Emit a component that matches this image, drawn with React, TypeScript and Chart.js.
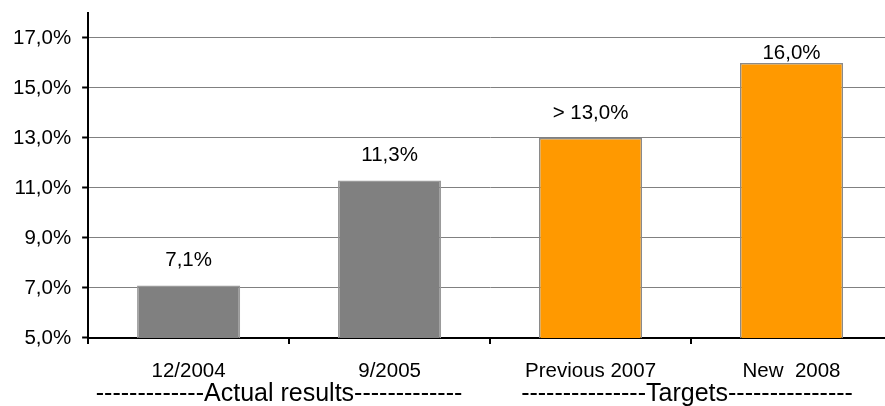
import React, { useEffect, useRef } from "react";
import { Chart, registerables } from "chart.js";

Chart.register(...registerables);

const categories = ["12/2004", "9/2005", "Previous 2007", "New  2008"];
const values = [7.1, 11.3, 13.0, 16.0];
const labelPrefixes = ["", "", "> ", ""];
const barColors = ["#808080", "#808080", "#FF9900", "#FF9900"];
const barBorders = ["#9a9a9a", "#9a9a9a", "#8a8a8a", "#8a8a8a"];
const yTicks = [5, 7, 9, 11, 13, 15, 17];
const groupLabels = ["-------------Actual results-------------", "---------------Targets---------------"];

const FONT = "'Liberation Sans', Arial, sans-serif";
const fmt = (v: number) => v.toFixed(1).replace(".", ",") + "%";

const labelPlugin = {
  id: "barLabels",
  afterDatasetsDraw(chart: any, _args: any, opts: any) {
    const ctx = chart.ctx;
    const meta = chart.getDatasetMeta(0);
    ctx.save();
    ctx.font = `${opts.size}px ${FONT}`;
    ctx.fillStyle = "#000";
    ctx.textAlign = "center";
    ctx.textBaseline = "alphabetic";
    meta.data.forEach((bar: any, i: number) => {
      const text = labelPrefixes[i] + fmt(values[i]);
      ctx.fillText(text, bar.x, bar.y - opts.offsets[i]);
    });
    ctx.restore();
  },
};

const groupPlugin = {
  id: "groupLabels",
  afterDraw(chart: any, _args: any, opts: any) {
    const ctx = chart.ctx;
    const xs = chart.scales.x;
    ctx.save();
    ctx.font = `${opts.size}px ${FONT}`;
    ctx.fillStyle = "#000";
    ctx.textAlign = "center";
    ctx.textBaseline = "alphabetic";
    groupLabels.forEach((t, i) => {
      ctx.fillText(t, xs.getPixelForValue(opts.centers[i]), opts.baseline);
    });
    ctx.restore();
  },
};

export default function App() {
  const ref = useRef<HTMLCanvasElement | null>(null);
  useEffect(() => {
    document.documentElement.style.overflow = "hidden";
    document.body.style.margin = "0";
    document.body.style.overflow = "hidden";
    const chart = new Chart(ref.current as HTMLCanvasElement, {
      type: "bar",
      data: {
        labels: categories,
        datasets: [
          {
            data: values,
            backgroundColor: barColors,
            borderColor: barBorders,
            borderWidth: 1.5,
            barPercentage: 0.513,
            categoryPercentage: 1,
          },
        ],
      },
      plugins: [labelPlugin, groupPlugin],
      options: {
        animation: false,
        responsive: false,
        layout: { padding: { left: 2, top: 13, right: 0, bottom: 6.5 } },
        plugins: {
          legend: { display: false },
          tooltip: { enabled: false },
          barLabels: { size: 20.5, offsets: [19.5, 19, 19, 4] },
          groupLabels: { size: 25, centers: [0.45, 2.48], baseline: 401 },
        } as any,
        scales: {
          x: {
            type: "category",
            offset: true,
            border: { display: true, color: "#000", width: 2 },
            grid: {
              offset: true,
              drawOnChartArea: false,
              drawTicks: true,
              tickLength: 6,
              color: "#000",
              lineWidth: 2,
            },
            ticks: {
              font: { family: FONT, size: 20.5 },
              color: "#000",
              padding: 15.5,
              maxRotation: 0,
              autoSkip: false,
            },
          },
          y: {
            min: 5,
            max: 18,
            afterBuildTicks: (scale: any) => {
              scale.ticks = yTicks.map((v) => ({ value: v }));
            },
            afterFit: (scale: any) => {
              scale.paddingTop = 0;
              scale.paddingBottom = 0;
            },
            border: { display: true, color: "#000", width: 2 },
            grid: {
              color: "#808080",
              lineWidth: 1,
              tickLength: 6,
              tickColor: "#000",
              tickWidth: 2,
              drawTicks: true,
            },
            ticks: {
              font: { family: FONT, size: 20.5 },
              color: "#000",
              padding: 11,
              callback: (v: any) => fmt(Number(v)),
            },
          },
        },
      },
    });
    return () => chart.destroy();
  }, []);
  return (
    <div style={{ position: "absolute", left: 0, top: 0, width: 892, height: 406 }}>
      <canvas ref={ref} width={892} height={406} style={{ display: "block" }} />
    </div>
  );
}
